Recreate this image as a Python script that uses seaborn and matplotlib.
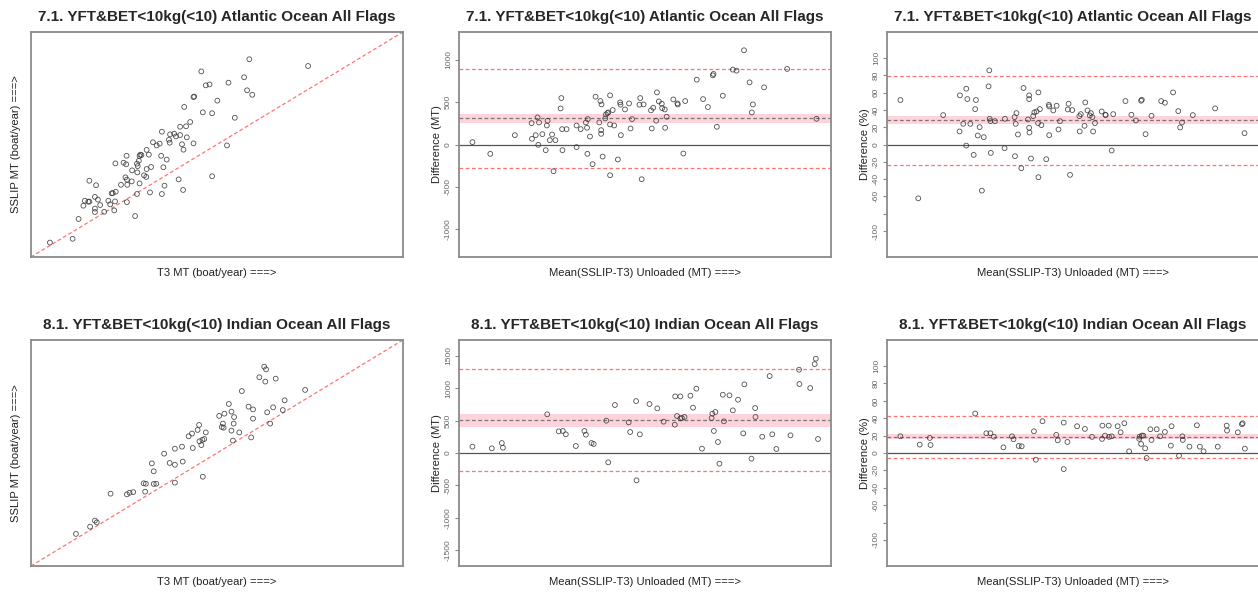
import numpy as np
import matplotlib
matplotlib.use("Agg")
import matplotlib.pyplot as plt
import seaborn as sns

# --- 7.1 Atlantic: SSLIP vs T3 (axis units hidden in the original) ---
atl_t3 = [5.1, 11.2, 12.8, 15.7, 17.5, 14.1, 14.5, 15.4, 15.7, 17.2, 18.0, 17.2, 17.2, 18.6,
          19.7, 20.8, 21.3, 22.4, 22.6, 21.7, 22.0, 22.8, 22.7, 24.2, 24.9, 25.6, 25.7, 25.4,
          25.8, 25.9, 25.8, 27.1, 27.2, 28.0, 28.5, 28.6, 28.7, 28.5, 29.0, 29.2, 29.4, 29.7,
          29.2, 30.4, 31.0, 31.1, 31.1, 31.7, 32.0, 32.3, 32.8, 33.8, 34.6, 35.2, 35.0, 35.2,
          35.6, 35.9, 36.5, 37.1, 37.3, 37.4, 38.5, 39.0, 39.7, 40.1, 40.1, 40.6, 41.0, 40.9,
          41.2, 41.7, 41.9, 42.8, 43.7, 43.7, 43.9, 45.8, 46.2, 47.0, 48.0, 48.7, 48.7, 50.1,
          52.7, 53.1, 54.8, 57.3, 58.1, 58.7, 59.5, 74.5]
atl_sslip = [6.4, 8.1, 16.9, 33.9, 31.9, 22.8, 25.0, 24.6, 24.6, 26.7, 25.5, 21.5, 20.0, 23.1,
             20.1, 25.0, 23.4, 20.7, 24.7, 28.3, 28.4, 29.0, 41.6, 32.1, 41.9, 41.2, 45.0, 35.4,
             34.4, 32.1, 24.4, 33.6, 38.5, 18.2, 28.0, 37.6, 40.4, 41.5, 42.8, 44.9, 45.5, 45.3,
             32.7, 36.3, 35.6, 39.1, 47.6, 45.5, 28.7, 40.0, 51.0, 49.6, 50.4, 55.7, 45.0, 28.0,
             39.9, 31.7, 43.3, 52.1, 50.8, 54.5, 54.8, 53.6, 34.5, 54.2, 57.9, 50.1, 47.7, 29.8,
             66.7, 58.1, 53.2, 60.0, 50.5, 71.1, 71.3, 82.5, 64.3, 76.3, 76.7, 63.9, 35.9, 69.5,
             49.6, 77.5, 61.9, 79.9, 74.1, 87.9, 72.1, 84.9]

# --- 7.1 Atlantic: difference (MT) vs mean ---
atl_mean = [3.6, 8.4, 15.0, 19.5, 19.6, 20.6, 21.1, 21.3, 21.5, 22.4, 23.3, 23.6, 23.8, 24.4,
            25.0, 25.4, 25.9, 27.3, 27.5, 27.7, 27.8, 28.9, 31.6, 31.6, 32.7, 34.1, 34.4, 34.5,
            34.6, 35.2, 35.9, 36.7, 37.7, 38.0, 38.2, 38.2, 38.3, 38.6, 39.3, 39.5, 39.9, 40.1,
            40.6, 40.6, 40.6, 41.3, 41.7, 42.7, 43.4, 43.3, 43.5, 44.6, 45.7, 46.1, 46.5, 48.7,
            48.5, 49.1, 49.6, 51.6, 51.8, 52.2, 53.0, 53.2, 53.7, 54.5, 54.6, 55.3, 55.4, 55.8,
            57.6, 58.7, 58.8, 60.3, 60.8, 63.9, 65.6, 66.9, 68.2, 68.4, 69.3, 70.9, 73.6, 74.6,
            76.6, 78.1, 78.7, 79.0, 82.0, 88.2, 96.1]
atl_diff = [28, -110, 110, 252, 67, 110, 319, -4, 260, 122, -67, 224, 280, 51,
            118, -315, 51, 425, 547, 181, -67, 181, 224, -31, 181, 260, 197, -110,
            299, 94, -232, 563, 260, 512, 126, 169, 472, -142, 307, 354, 370, 378,
            579, 236, -362, 406, 224, -177, 469, 496, 110, 413, 484, 189, 299, 547,
            469, -409, 472, 402, 189, 433, 280, 614, 508, 480, 429, 413, 197, 327,
            531, 484, 472, -106, 512, 764, 535, 441, 815, 831, 209, 575, 882, 870,
            1110, 732, 378, 472, 673, 890, 303]
atl_diff_mean, atl_diff_ci, atl_diff_loa = 311, (256, 362), (-272, 894)

# --- 7.1 Atlantic: difference (%) vs mean ---
atl_pmean = [3.6, 8.4, 15.1, 19.5, 19.6, 20.5, 21.3, 21.3, 21.6, 22.4, 23.3, 23.7, 23.9, 24.4,
             24.9, 25.5, 26.0, 27.3, 27.5, 27.6, 27.8, 27.9, 29.0, 31.6, 31.7, 34.3, 34.4, 34.6,
             34.8, 35.2, 36.1, 36.7, 37.9, 38.2, 38.2, 38.2, 38.3, 38.7, 39.3, 39.6, 40.2, 40.6,
             40.7, 40.7, 41.1, 41.5, 42.8, 43.5, 43.6, 43.6, 44.7, 45.6, 46.1, 46.5, 48.6, 48.8,
             49.2, 49.8, 51.7, 51.8, 52.1, 53.1, 53.3, 53.9, 54.5, 54.8, 55.2, 55.4, 55.9, 57.7,
             58.7, 58.8, 60.4, 60.8, 64.1, 65.7, 66.9, 68.3, 68.5, 69.5, 71.1, 73.7, 74.7, 76.9,
             78.3, 78.8, 79.3, 82.2, 88.2, 96.1]
atl_pct = [51.4, -62.2, 34.0, 15.1, 56.8, 23.9, 64.5, -1.2, 52.5, 23.9, -12.0, 40.9, 51.4, 10.4,
           20.1, -53.3, 8.5, 67.2, 85.7, 29.7, 27.0, -9.7, 27.0, -4.2, 29.7, 31.7, -13.5, 23.9,
           36.3, 11.6, -27.4, 65.3, 29.0, 56.8, 52.5, 19.3, 13.9, -16.2, 32.8, 37.1, 38.2, 24.7,
           60.2, -37.8, 40.9, 22.4, -17.0, 45.9, 44.0, 10.8, 39.4, 44.8, 17.4, 27.0, 40.5, 47.1,
           -35.1, 39.8, 32.8, 15.1, 35.1, 21.6, 48.6, 39.4, 33.6, 36.3, 31.7, 15.1, 24.7, 38.2,
           34.4, 34.0, -6.9, 35.1, 50.2, 34.4, 27.8, 50.6, 51.7, 12.0, 33.2, 50.2, 48.3, 60.2,
           38.6, 19.7, 25.5, 34.0, 41.7, 13.1]
atl_pct_mean, atl_pct_ci, atl_pct_loa = 28.6, (23.2, 32.8), (-23.5, 79.5)

# --- 8.1 Indian: SSLIP vs T3 ---
ind_t3 = [12.1, 15.9, 17.2, 17.7, 21.4, 25.8, 26.5, 27.5, 30.3, 30.9, 30.7, 33.0, 33.7, 32.5,
          33.0, 35.8, 37.3, 38.7, 38.7, 38.7, 40.6, 40.8, 42.4, 43.3, 43.5, 44.8, 45.2, 45.3,
          45.8, 46.1, 46.6, 47.0, 46.2, 50.6, 51.3, 51.6, 52.0, 51.8, 53.2, 53.9, 53.9, 54.3,
          54.6, 54.5, 56.0, 56.7, 58.5, 59.2, 59.7, 59.7, 61.4, 62.7, 63.2, 63.0, 63.5, 64.3,
          65.1, 65.8, 67.7, 68.2, 73.7]
ind_sslip = [14.2, 17.4, 20.1, 19.3, 32.0, 31.7, 32.4, 32.7, 36.6, 36.4, 32.9, 36.3, 36.4, 45.4,
             41.9, 49.7, 45.6, 51.9, 44.8, 36.9, 52.8, 46.2, 57.4, 58.6, 52.2, 60.2, 62.4, 55.2,
             53.5, 55.8, 56.2, 59.1, 39.5, 66.4, 61.5, 63.0, 67.4, 61.2, 71.7, 68.3, 59.9, 55.5,
             65.9, 63.0, 59.1, 77.4, 70.5, 56.9, 69.3, 65.2, 83.5, 88.2, 87.0, 81.6, 68.0, 63.0,
             70.2, 82.9, 69.0, 73.3, 77.9]

# --- 8.1 Indian: difference (MT) vs mean ---
ind_mean = [3.6, 8.8, 11.5, 11.8, 23.7, 26.8, 27.9, 28.7, 31.4, 33.7, 34.1, 35.6, 36.2, 39.6,
            40.1, 41.9, 45.6, 46.0, 47.6, 47.7, 48.6, 51.2, 53.3, 55.0, 58.0, 58.1, 58.6, 59.5,
            59.5, 59.9, 60.6, 62.2, 62.9, 63.8, 65.3, 67.9, 68.1, 68.5, 68.9, 69.6, 70.0, 70.9,
            71.2, 72.7, 73.6, 75.0, 76.4, 76.7, 78.6, 79.6, 79.7, 81.5, 83.5, 84.2, 85.3, 89.1,
            91.4, 91.5, 94.4, 95.6, 95.9, 96.5]
ind_diff = [98, 72, 154, 82, 597, 334, 340, 288, 108, 340, 283, 154, 139, 499,
            -144, 741, 473, 324, 802, -422, 288, 756, 689, 484, 437, 874, 571, 874,
            535, 540, 556, 885, 700, 993, 67, 540, 607, 340, 633, 170, -165, 900,
            489, 890, 658, 823, 303, 1060, -87, 694, 556, 252, 1188, 288, 62, 273,
            1286, 1065, 1003, 1373, 1456, 216]
ind_diff_mean, ind_diff_ci, ind_diff_loa = 509, (406, 602), (-283, 1296)

# --- 8.1 Indian: difference (%) vs mean ---
ind_pmean = [3.6, 8.8, 11.5, 11.7, 23.7, 26.7, 27.8, 28.7, 31.3, 33.6, 34.0, 35.4, 36.2, 39.5,
             40.0, 41.8, 45.5, 45.9, 47.5, 47.5, 48.5, 51.1, 53.2, 55.1, 57.8, 57.9, 58.6, 59.6,
             59.7, 60.4, 62.0, 62.8, 63.8, 65.1, 67.9, 67.8, 68.3, 68.5, 68.9, 69.4, 69.8, 70.8,
             71.1, 72.5, 73.4, 74.7, 76.3, 76.5, 78.5, 79.4, 79.5, 81.3, 83.3, 84.1, 85.1, 88.9,
             91.3, 91.4, 94.3, 95.4, 95.6, 96.2]
ind_pct = [19.2, 9.6, 17.3, 9.2, 45.4, 22.7, 22.7, 18.8, 6.5, 19.2, 15.8, 8.1, 7.7, 25.0,
           -7.7, 36.5, 20.8, 14.6, 35.0, -18.5, 12.7, 30.8, 27.7, 18.5, 16.2, 31.5, 20.0, 31.5,
           18.5, 19.2, 30.8, 23.8, 34.2, 1.9, 18.8, 16.2, 10.4, 20.0, 20.0, 5.4, -5.8, 27.3,
           15.0, 27.3, 19.2, 24.2, 8.5, 30.8, -3.1, 19.2, 15.0, 7.3, 31.9, 7.3, 1.9, 7.3,
           31.5, 25.8, 23.8, 33.1, 34.2, 5.0]
ind_pct_mean, ind_pct_ci, ind_pct_loa = 18.8, (15.8, 22.4), (-6.3, 42.6)

titles = ["7.1. YFT&BET<10kg(<10) Atlantic Ocean All Flags",
          "8.1. YFT&BET<10kg(<10) Indian Ocean All Flags"]
pct_ticks = [-100, -80, -60, -40, -20, 0, 20, 40, 60, 80, 100]
pct_labels = ["-100", "", "-60", "-40", "-20", "0", "20", "40", "60", "80", "100"]

sns.set_style("white")
plt.rcParams["font.family"] = ["Liberation Sans", "DejaVu Sans"]

FRAME = "#8a8a8a"
PT_EDGE = "#333333"
RED = "#ff7373"
LAB = 8.1


def base_axes(ax, title):
    for s in ax.spines.values():
        s.set_color(FRAME)
        s.set_linewidth(1.3)
    ax.set_title(title, fontsize=11, fontweight="bold", pad=8)
    ax.tick_params(axis="x", bottom=False, labelbottom=False)


def points(ax, x, y):
    sns.scatterplot(x=x, y=y, ax=ax, marker="o", s=12, facecolors="none",
                    edgecolor=PT_EDGE, linewidth=0.6, alpha=0.85, zorder=5)


def set_labels(ax, xlab, ylab, ypad):
    # seaborn hides the x label when tick labels are hidden, so force it back on
    ax.set_xlabel(xlab, fontsize=LAB, color="#222222", labelpad=8, visible=True)
    ax.set_ylabel(ylab, fontsize=LAB, color="#222222", labelpad=ypad, visible=True)


def agreement(ax, x, y, mean, ci, loa, ylim, ticks, labels, ylab):
    ax.axhspan(ci[0], ci[1], color="#ffc8d2", alpha=0.8, lw=0, zorder=1)
    ax.axhline(0, color="#555555", lw=0.9, zorder=2)
    ax.axhline(mean, color="#777777", lw=0.9, ls=(0, (3, 2)), zorder=2)
    for v in loa:
        ax.axhline(v, color=RED, lw=0.9, ls=(0, (3, 2)), zorder=2)
    points(ax, x, y)
    ax.set_xlim(0, 100)
    ax.set_ylim(*ylim)
    ax.set_yticks(ticks)
    ax.set_yticklabels(labels)
    ax.tick_params(axis="y", left=True, direction="out", length=3, width=0.8,
                   color=FRAME, labelsize=6, labelcolor="#666666", pad=2)
    for lbl in ax.get_yticklabels():
        lbl.set_rotation(90)
        lbl.set_va("center")
    set_labels(ax, "Mean(SSLIP-T3) Unloaded (MT) ===>", ylab, 2)


def identity(ax, x, y):
    ax.plot([0, 100], [0, 100], color=RED, lw=0.9, ls=(0, (3, 2)), zorder=2)
    points(ax, x, y)
    ax.set_xlim(0, 100)
    ax.set_ylim(0, 100)
    ax.tick_params(axis="y", left=False, labelleft=False)
    set_labels(ax, "T3 MT (boat/year) ===>", "SSLIP MT (boat/year) ===>", 7)


fig = plt.figure(figsize=(12.58, 5.92), dpi=100)
lefts = [0.0246, 0.3649, 0.7051]
w = 0.2957
rows = [(0.5659, 0.3800), (0.0439, 0.3818)]

axs = [[fig.add_axes([l, b, w, h]) for l in lefts] for (b, h) in rows]

# top row: Atlantic
base_axes(axs[0][0], titles[0])
identity(axs[0][0], atl_t3, atl_sslip)
base_axes(axs[0][1], titles[0])
agreement(axs[0][1], atl_mean, atl_diff, atl_diff_mean, atl_diff_ci, atl_diff_loa,
          (-1325, 1325), [-1000, -500, 0, 500, 1000],
          ["-1000", "-500", "0", "500", "1000"], "Difference (MT)")
base_axes(axs[0][2], titles[0])
agreement(axs[0][2], atl_pmean, atl_pct, atl_pct_mean, atl_pct_ci, atl_pct_loa,
          (-130, 130), pct_ticks, pct_labels, "Difference (%)")

# bottom row: Indian
base_axes(axs[1][0], titles[1])
identity(axs[1][0], ind_t3, ind_sslip)
base_axes(axs[1][1], titles[1])
agreement(axs[1][1], ind_mean, ind_diff, ind_diff_mean, ind_diff_ci, ind_diff_loa,
          (-1745, 1745), [-1500, -1000, -500, 0, 500, 1000, 1500],
          ["-1500", "-1000", "-500", "0", "500", "1000", "1500"], "Difference (MT)")
base_axes(axs[1][2], titles[1])
agreement(axs[1][2], ind_pmean, ind_pct, ind_pct_mean, ind_pct_ci, ind_pct_loa,
          (-130, 130), pct_ticks, pct_labels, "Difference (%)")

fig.savefig("out.png", dpi=100, facecolor="white")
